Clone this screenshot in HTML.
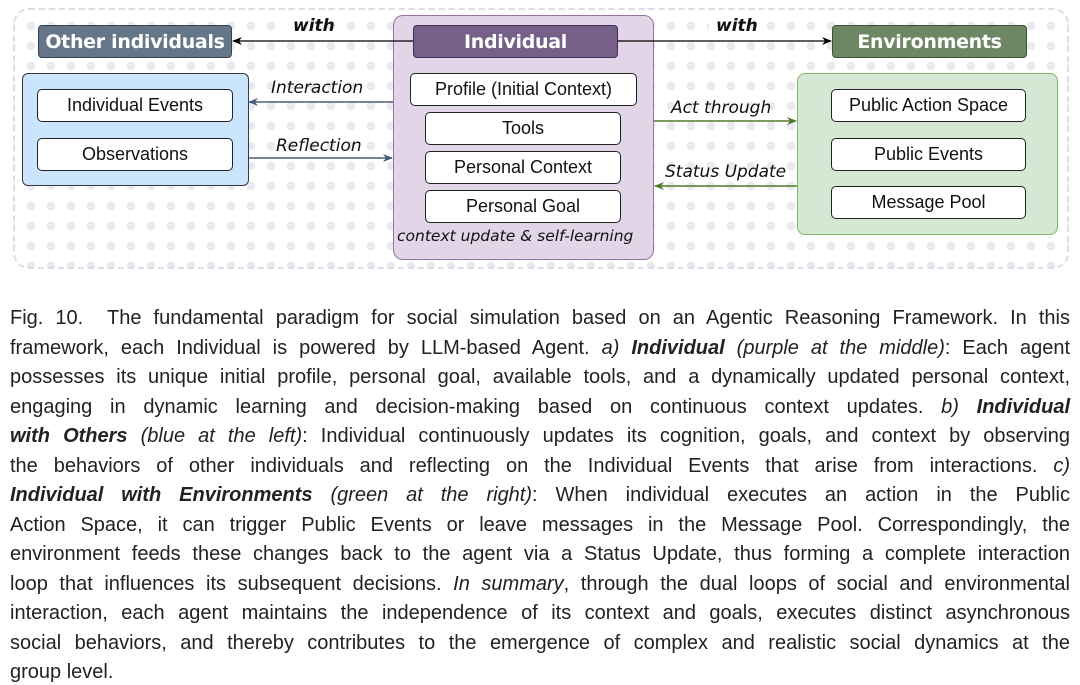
<!DOCTYPE html>
<html><head><meta charset="utf-8"><style>
html,body{margin:0;padding:0;background:#fff;width:1080px;height:685px;overflow:hidden;position:relative}
.a{position:absolute;box-sizing:border-box}
.hdr{color:#fff;font-family:"DejaVu Sans",sans-serif;font-weight:bold;font-size:19px;display:flex;align-items:center;justify-content:center;border-radius:4px;white-space:nowrap;letter-spacing:-0.3px}
.bx{background:#fff;border:1.5px solid #222;border-radius:5px;font-family:"Liberation Sans",sans-serif;font-size:18px;display:flex;align-items:center;justify-content:center;color:#111}
.lb{font-family:"DejaVu Sans",sans-serif;font-style:italic;font-size:17px;color:#111;white-space:nowrap}
.cap{position:absolute;left:10px;width:1060px;font-family:"Liberation Sans",sans-serif;font-size:20px;color:#222;line-height:29.5px;top:304px}
.cap div{text-align:justify;text-align-last:justify;white-space:nowrap;height:29.5px}
.cap div.l{text-align-last:left}
</style></head><body>
<div class="a" style="left:13px;top:8px;width:1056px;height:261px;border:2px dashed #e0dce6;border-radius:16px;background-image:radial-gradient(circle,#ebe8f0 4px,transparent 4.5px);background-size:20px 20px;background-position:6px 6px"></div>
<div class="a" style="left:393px;top:15px;width:261px;height:245px;background:#e1d5e7;border:1.5px solid #9673a6;border-radius:10px"></div>
<div class="a" style="left:22px;top:73px;width:227px;height:113px;background:#cce5ff;border:1.5px solid #36393d;border-radius:6px"></div>
<div class="a" style="left:797px;top:73px;width:261px;height:162px;background:#d5e8d4;border:1.5px solid #82b366;border-radius:8px"></div>
<div class="a hdr" style="left:38px;top:25px;width:194px;height:33px;background:#647687;border:1px solid #314354">Other individuals</div>
<div class="a hdr" style="left:413px;top:25px;width:205px;height:33px;background:#76608a;border:1px solid #432d57">Individual</div>
<div class="a hdr" style="left:832px;top:25px;width:195px;height:33px;background:#6d8764;border:1px solid #3a5431">Environments</div>
<div class="a bx" style="left:37px;top:89px;width:196px;height:33px">Individual Events</div>
<div class="a bx" style="left:37px;top:138px;width:196px;height:33px">Observations</div>
<div class="a bx" style="left:410px;top:73px;width:227px;height:33px">Profile (Initial Context)</div>
<div class="a bx" style="left:425px;top:112px;width:196px;height:33px">Tools</div>
<div class="a bx" style="left:425px;top:151px;width:196px;height:33px">Personal Context</div>
<div class="a bx" style="left:425px;top:190px;width:196px;height:33px">Personal Goal</div>
<div class="a bx" style="left:831px;top:89px;width:195px;height:33px">Public Action Space</div>
<div class="a bx" style="left:831px;top:138px;width:195px;height:33px">Public Events</div>
<div class="a bx" style="left:831px;top:186px;width:195px;height:33px">Message Pool</div>
<div class="a lb" style="left:397px;top:227px;font-size:15.5px">context update &amp; self-learning</div>
<svg class="a" style="left:0;top:0" width="1080" height="280">
<defs>
<marker id="k" markerWidth="10" markerHeight="8" refX="9" refY="4" orient="auto" markerUnits="userSpaceOnUse"><path d="M0,0 L10,4 L0,8 L3,4z" fill="#000"/></marker>
<marker id="b" markerWidth="10" markerHeight="8" refX="9" refY="4" orient="auto" markerUnits="userSpaceOnUse"><path d="M0,0 L10,4 L0,8 L3,4z" fill="#4a5d78"/></marker>
<marker id="g" markerWidth="10" markerHeight="8" refX="9" refY="4" orient="auto" markerUnits="userSpaceOnUse"><path d="M0,0 L10,4 L0,8 L3,4z" fill="#4d7a2a"/></marker>
</defs>
<line x1="413" y1="41" x2="233" y2="41" stroke="#000" stroke-width="1.3" marker-end="url(#k)"/>
<line x1="618" y1="41" x2="831" y2="41" stroke="#000" stroke-width="1.3" marker-end="url(#k)"/>
<line x1="393" y1="102" x2="249" y2="102" stroke="#4a5d78" stroke-width="1.5" marker-end="url(#b)"/>
<line x1="249" y1="158" x2="392" y2="158" stroke="#4a5d78" stroke-width="1.5" marker-end="url(#b)"/>
<line x1="654" y1="121" x2="796" y2="121" stroke="#4d7a2a" stroke-width="1.5" marker-end="url(#g)"/>
<line x1="797" y1="186" x2="655" y2="186" stroke="#4d7a2a" stroke-width="1.5" marker-end="url(#g)"/>
<rect x="285" y="17" width="40" height="20" fill="#fff"/>
<rect x="709" y="17" width="40" height="20" fill="#fff"/>
</svg>
<div class="a lb" style="left:293px;top:16px;font-weight:bold;font-size:17px">with</div>
<div class="a lb" style="left:716px;top:16px;font-weight:bold;font-size:17px">with</div>
<div class="a lb" style="left:271px;top:78px">Interaction</div>
<div class="a lb" style="left:276px;top:136px">Reflection</div>
<div class="a lb" style="left:671px;top:98px">Act through</div>
<div class="a lb" style="left:665px;top:162px">Status Update</div>
<div class="cap">
<div>Fig. 10.&nbsp; The fundamental paradigm for social simulation based on an Agentic Reasoning Framework. In this</div>
<div>framework, each Individual is powered by LLM-based Agent. <i>a)</i> <b><i>Individual</i></b> <i>(purple at the middle)</i>: Each agent</div>
<div>possesses its unique initial profile, personal goal, available tools, and a dynamically updated personal context,</div>
<div>engaging in dynamic learning and decision-making based on continuous context updates. <i>b)</i> <b><i>Individual</i></b></div>
<div><b><i>with Others</i></b> <i>(blue at the left)</i>: Individual continuously updates its cognition, goals, and context by observing</div>
<div>the behaviors of other individuals and reflecting on the Individual Events that arise from interactions. <i>c)</i></div>
<div><b><i>Individual with Environments</i></b> <i>(green at the right)</i>: When individual executes an action in the Public</div>
<div>Action Space, it can trigger Public Events or leave messages in the Message Pool. Correspondingly, the</div>
<div>environment feeds these changes back to the agent via a Status Update, thus forming a complete interaction</div>
<div>loop that influences its subsequent decisions. <i>In summary</i>, through the dual loops of social and environmental</div>
<div>interaction, each agent maintains the independence of its context and goals, executes distinct asynchronous</div>
<div>social behaviors, and thereby contributes to the emergence of complex and realistic social dynamics at the</div>
<div class="l">group level.</div>
</div>
</body></html>
